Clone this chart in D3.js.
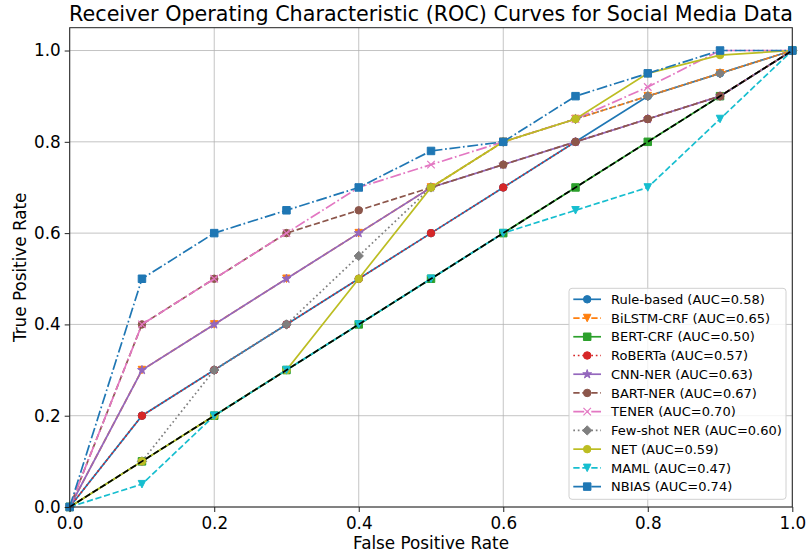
<!DOCTYPE html>
<html>
<head>
<meta charset="utf-8">
<script src="https://cdn.jsdelivr.net/npm/d3@7"></script>
<style>
  html, body { margin: 0; padding: 0; background: #fff; }
  svg { display: block; font-family: "DejaVu Sans", sans-serif; }
</style>
</head>
<body>
<svg id="chart" width="808" height="558"></svg>
<script>
// ---- data ----
const fpr = [0.0, 0.1, 0.2, 0.3, 0.4, 0.5, 0.6, 0.7, 0.8, 0.9, 1.0];
const ruleBased = [0.0, 0.2, 0.3, 0.4, 0.5, 0.6, 0.7, 0.8, 0.9, 0.95, 1.0];
const bilstmCrf = [0.0, 0.3, 0.4, 0.5, 0.6, 0.7, 0.8, 0.85, 0.9, 0.95, 1.0];
const bertCrf = [0.0, 0.1, 0.2, 0.3, 0.4, 0.5, 0.6, 0.7, 0.8, 0.9, 1.0];
const roberta = [0.0, 0.2, 0.3, 0.4, 0.5, 0.6, 0.7, 0.8, 0.85, 0.9, 1.0];
const cnnNer = [0.0, 0.3, 0.4, 0.5, 0.6, 0.7, 0.75, 0.8, 0.85, 0.9, 1.0];
const bartNer = [0.0, 0.4, 0.5, 0.6, 0.65, 0.7, 0.75, 0.8, 0.85, 0.9, 1.0];
const tener = [0.0, 0.4, 0.5, 0.6, 0.7, 0.75, 0.8, 0.85, 0.92, 1.0, 1.0];
const fewShotNer = [0.0, 0.1, 0.3, 0.4, 0.55, 0.7, 0.8, 0.85, 0.9, 0.95, 1.0];
const net = [0.0, 0.1, 0.2, 0.3, 0.5, 0.7, 0.8, 0.85, 0.95, 0.99, 1.0];
const maml = [0.0, 0.05, 0.2, 0.3, 0.4, 0.5, 0.6, 0.65, 0.7, 0.85, 1.0];
const nbias = [0.0, 0.5, 0.6, 0.65, 0.7, 0.78, 0.8, 0.9, 0.95, 1.0, 1.0];

const modelNames = ["Rule-based", "BiLSTM-CRF", "BERT-CRF", "RoBERTa", "CNN-NER", "BART-NER",
                    "TENER", "Few-shot NER", "NET", "MAML", "NBIAS"];
const aucLabels = ["0.58", "0.65", "0.50", "0.57", "0.63", "0.67", "0.70", "0.60", "0.59", "0.47", "0.74"];
const seriesValues = [ruleBased, bilstmCrf, bertCrf, roberta, cnnNer, bartNer, tener, fewShotNer, net, maml, nbias];
const xTicks = [0.0, 0.2, 0.4, 0.6, 0.8, 1.0];
const yTicks = [0.0, 0.2, 0.4, 0.6, 0.8, 1.0];
const diagonal = [0.0, 1.0];

// ---- styles ----
const colors = ["#1f77b4", "#ff7f0e", "#2ca02c", "#d62728", "#9467bd", "#8c564b",
                "#e377c2", "#7f7f7f", "#bcbd22", "#17becf", "#1f77b4"];
const dashes = ["", "6.3,2.7", "", "1.7,2.8", "", "6.3,2.7", "10.9,2.7,1.7,2.7", "1.7,2.8", "", "6.3,2.7", "10.9,2.7,1.7,2.7"];
const markers = ["o", "v", "s", "o", "*", "o", "x", "D", "o", "v", "s"];
const LW = 1.7;

(function () {
const svg = d3.select("#chart");
const pLeft = 69.7, pRight = 792.3, pTop = 27.7, pBottom = 507;

const x = d3.scaleLinear().domain([0, 1]).range([pLeft, pRight]);
const y = d3.scaleLinear().domain([0, 1.05]).range([pBottom, pTop]);

// grid
const grid = svg.append("g");
grid.selectAll(".gx").data(xTicks).join("line")
  .attr("x1", d => x(d)).attr("x2", d => x(d)).attr("y1", pTop).attr("y2", pBottom)
  .attr("stroke", "#b0b0b0").attr("stroke-opacity", 0.75).attr("stroke-width", 1);
grid.selectAll(".gy").data(yTicks).join("line")
  .attr("x1", pLeft).attr("x2", pRight).attr("y1", d => y(d)).attr("y2", d => y(d))
  .attr("stroke", "#b0b0b0").attr("stroke-opacity", 0.75).attr("stroke-width", 1);

function markerPath(type, s) {
  const h = s / 2;
  switch (type) {
    case "s": return `M${-h},${-h}L${h},${-h}L${h},${h}L${-h},${h}Z`;
    case "v": return `M${-h},${-h}L${h},${-h}L0,${h}Z`;
    case "D": { const d = s * 0.62; return `M0,${-d}L${d},0L0,${d}L${-d},0Z`; }
    case "x": return `M${-h},${-h}L${h},${h}M${-h},${h}L${h},${-h}`;
    case "*": {
      const R = s * 0.62, r = R * 0.382; let p = "";
      for (let i = 0; i < 10; i++) {
        const a = -Math.PI / 2 + i * Math.PI / 5;
        const rr = i % 2 === 0 ? R : r;
        p += (i === 0 ? "M" : "L") + (rr * Math.cos(a)).toFixed(2) + "," + (rr * Math.sin(a)).toFixed(2);
      }
      return p + "Z";
    }
  }
  return "";
}
function drawMarker(g, type, color, cx, cy) {
  const size = 7.5;
  if (type === "o") {
    g.append("circle").attr("cx", cx).attr("cy", cy).attr("r", size / 2)
      .attr("fill", color).attr("stroke", color).attr("stroke-width", 1);
  } else if (type === "x") {
    g.append("path").attr("d", markerPath("x", size)).attr("transform", `translate(${cx},${cy})`)
      .attr("fill", "none").attr("stroke", color).attr("stroke-width", 1.2);
  } else {
    g.append("path").attr("d", markerPath(type, size)).attr("transform", `translate(${cx},${cy})`)
      .attr("fill", color).attr("stroke", color).attr("stroke-width", 1).attr("stroke-linejoin", "miter");
  }
}

const line = d3.line().x(d => x(d[0])).y(d => y(d[1]));
const plot = svg.append("g");

seriesValues.forEach((vals, i) => {
  const g = plot.append("g");
  const pts = fpr.map((f, k) => [f, vals[k]]);
  g.append("path").attr("d", line(pts)).attr("fill", "none")
    .attr("stroke", colors[i]).attr("stroke-width", LW)
    .attr("stroke-dasharray", dashes[i] || null);
  pts.forEach(p => drawMarker(g, markers[i], colors[i], x(p[0]), y(p[1])));
});

// chance diagonal
plot.append("path").attr("d", line(diagonal.map(d => [d, d]))).attr("fill", "none")
  .attr("stroke", "#000").attr("stroke-width", LW).attr("stroke-dasharray", "6.3,2.7");

// spines
svg.append("rect").attr("x", pLeft).attr("y", pTop).attr("width", pRight - pLeft).attr("height", pBottom - pTop)
  .attr("fill", "none").attr("stroke", "#222").attr("stroke-width", 1);

// axes
const xAxis = svg.append("g").attr("transform", `translate(0,${pBottom})`)
  .call(d3.axisBottom(x).tickValues(xTicks).tickFormat(d3.format(".1f")).tickSize(5).tickPadding(5));
const yAxis = svg.append("g").attr("transform", `translate(${pLeft},0)`)
  .call(d3.axisLeft(y).tickValues(yTicks).tickFormat(d3.format(".1f")).tickSize(5).tickPadding(4));
[xAxis, yAxis].forEach(a => {
  a.select(".domain").remove();
  a.selectAll(".tick line").attr("stroke", "#222").attr("stroke-width", 1);
  a.selectAll(".tick text").attr("fill", "#000").style("font-size", "16.8px").style("font-family", "DejaVu Sans");
});

// labels
svg.append("text").attr("x", (pLeft + pRight) / 2).attr("y", 549).attr("text-anchor", "middle")
  .style("font-size", "16.8px").text("False Positive Rate");
svg.append("text").attr("transform", `translate(26,${(pTop + pBottom) / 2}) rotate(-90)`).attr("text-anchor", "middle")
  .style("font-size", "16.8px").text("True Positive Rate");
svg.append("text").attr("x", (pLeft + pRight) / 2).attr("y", 21).attr("text-anchor", "middle")
  .style("font-size", "20.7px").text("Receiver Operating Characteristic (ROC) Curves for Social Media Data");

// legend
const lg = svg.append("g");
const lgX = 569, lgY = 288.3, lgW = 217, lgH = 211;
lg.append("rect").attr("x", lgX).attr("y", lgY).attr("width", lgW).attr("height", lgH)
  .attr("rx", 3).attr("fill", "#fff").attr("fill-opacity", 0.8).attr("stroke", "#d0d0d0").attr("stroke-width", 1);
modelNames.forEach((name, i) => {
  const cy = 299.3 + i * 18.73;
  const g = lg.append("g");
  g.append("line").attr("x1", 573.3).attr("x2", 601).attr("y1", cy).attr("y2", cy)
    .attr("stroke", colors[i]).attr("stroke-width", LW).attr("stroke-dasharray", dashes[i] || null);
  drawMarker(g, markers[i], colors[i], 587.2, cy);
  g.append("text").attr("x", 611).attr("y", cy + 4.7).style("font-size", "13px")
    .text(`${name} (AUC=${aucLabels[i]})`);
});
})();
</script>
</body>
</html>
